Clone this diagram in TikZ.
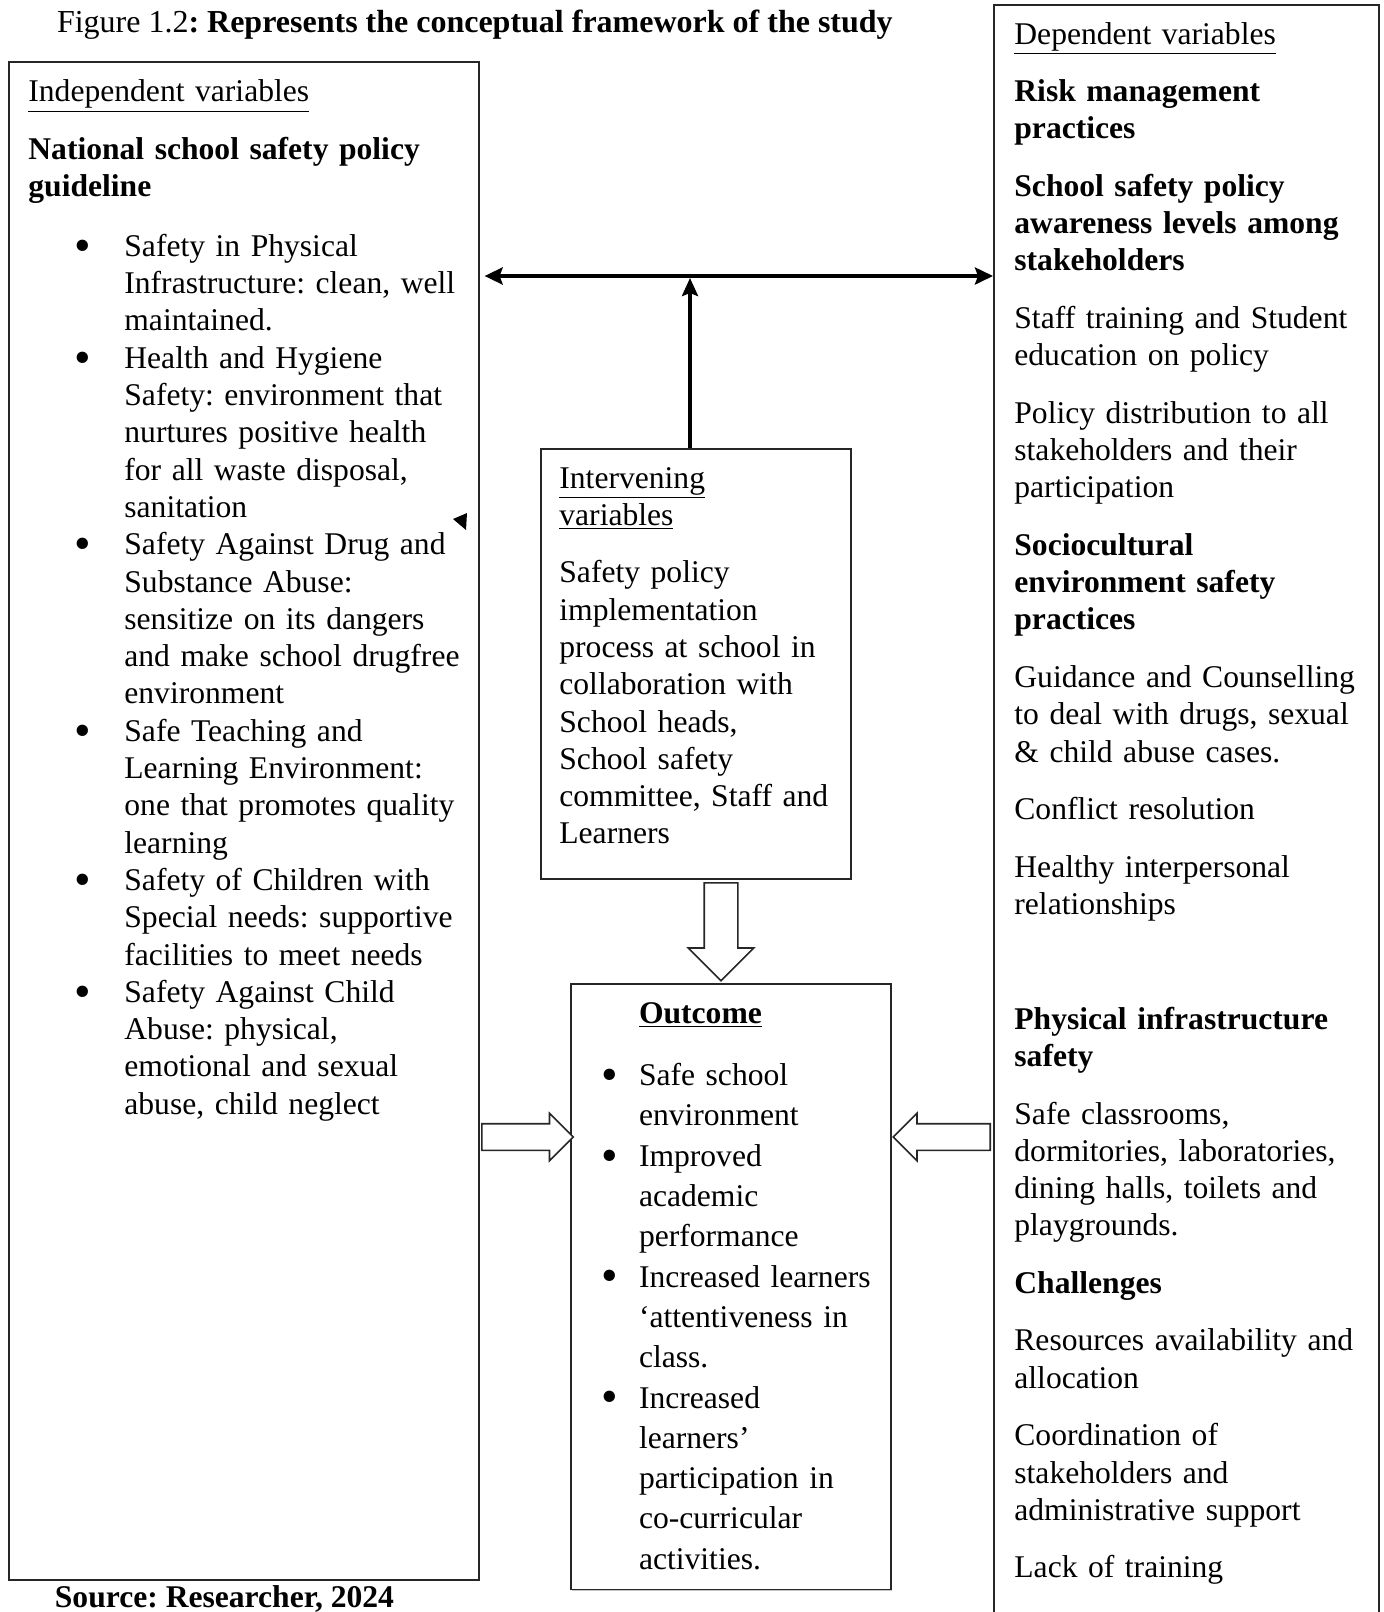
\documentclass[tikz,border=0pt]{standalone}
\usepackage{fontspec}
\setmainfont{Liberation Serif}
\usepackage{graphicx}
\usepackage{enumitem}
\usetikzlibrary{arrows.meta,shapes.arrows,shadows}
\frenchspacing

\newcommand{\bigdot}{\raisebox{-2.4pt}{\scalebox{1.5}{\textbullet}}}

\tikzset{
    frame/.style={draw=black!85, line width=0.8pt, fill=white, inner sep=0pt, anchor=north west,
        drop shadow={shadow xshift=0.6pt, shadow yshift=-0.6pt, fill=black!45}},
    txt/.style={inner sep=0pt, anchor=base west, align=left,
        font=\fontsize{15.8pt}{18.65pt}\selectfont,
        execute at begin node=\setlength{\parskip}{10.1pt}},
    tip/.style={line width=2pt},
    hollow/.style={single arrow, draw=black!85, line width=0.8pt, fill=white, anchor=tail,
        inner sep=6.25pt, single arrow head extend=5.25pt}
}

\begin{document}
\begin{tikzpicture}[x=0.5pt,y=-0.5pt]
    \useasboundingbox (0,0) rectangle (1383,1612);

    % boxes
    \node[frame, minimum width=235pt, minimum height=759pt] (indep) at (8,61) {};
    \node[frame, minimum width=155pt, minimum height=215pt] (interv) at (540,448) {};
    \node[frame, minimum width=160pt, minimum height=302.75pt] (outcome) at (570,983) {};
    \node[frame, minimum width=192.5pt, minimum height=830pt] (dep) at (993,4) {};

    % links
    \coordinate (hub) at (690,276);
    \draw[tip, {Stealth[length=9pt,width=8.5pt,inset=1.5pt]}-{Stealth[length=9pt,width=8.5pt,inset=1.5pt]}, shorten <=2.5pt]
        (indep.east |- hub) -- (dep.west |- hub);
    \draw[tip, -{Stealth[length=9pt,width=8pt,inset=1.5pt]}, shorten >=1pt] (interv.north -| hub) -- (hub);
    \node[hollow, inner sep=8pt, single arrow head extend=8pt, minimum height=49pt, rotate=-90] (downarr) at (721,882) {};
    \node[hollow, minimum height=45.75pt] (leftarr) at (481,1137) {};
    \node[hollow, minimum height=48.5pt, rotate=180] (rightarr) at (991,1137) {};
    \fill (453,519) -- (467,513) -- (466,530) -- cycle;

    % texts
    \node[txt, font=\fontsize{16pt}{18.65pt}\selectfont] (title) at (56.6,32) {Figure 1.2\textbf{: Represents the conceptual framework of the study}};
    \node[txt] (source) at (54.5,1607) {\textbf{Source: Researcher, 2024}};

    \node[txt, text width=235pt] (indeptxt) at (28,101.5) {\underline{Independent variables}\par
        \textbf{National school safety policy\\guideline}\par
        \begin{itemize}[label=\bigdot, leftmargin=48pt, labelsep=16.5pt, nosep, topsep=1.25pt]
            \item Safety in Physical\\Infrastructure: clean, well\\maintained.
            \item Health and Hygiene\\Safety: environment that\\nurtures positive health\\for all waste disposal,\\sanitation
            \item Safety Against Drug and\\Substance Abuse:\\sensitize on its dangers\\and make school drugfree\\environment
            \item Safe Teaching and\\Learning Environment:\\one that promotes quality\\learning
            \item Safety of Children with\\Special needs: supportive\\facilities to meet needs
            \item Safety Against Child\\Abuse: physical,\\emotional and sexual\\abuse, child neglect
        \end{itemize}};

    \node[txt, text width=150pt] (intervtxt) at (559,488) {\underline{Intervening}\\\underline{variables}\par
        Safety policy\\implementation\\process at school in\\collaboration with\\School heads,\\School safety\\committee, Staff and\\Learners};

    \node[txt, text width=160pt, font=\fontsize{15.8pt}{20.15pt}\selectfont] (outcometxt) at (586,1023) {\hspace*{26.3pt}\underline{\textbf{Outcome}}\par
        \begin{itemize}[label=\bigdot, leftmargin=26.3pt, labelsep=10.5pt, nosep, topsep=1.05pt]
            \item Safe school\\environment
            \item Improved\\academic\\performance
            \item Increased learners\\‘attentiveness in\\class.
            \item Increased\\learners’\\participation in\\co-curricular\\activities.
        \end{itemize}};

    \node[txt, text width=185pt] (deptxt) at (1014,44) {\underline{Dependent variables}\par
        \textbf{Risk management\\practices}\par
        \textbf{School safety policy\\awareness levels among\\stakeholders}\par
        Staff training and Student\\education on policy\par
        Policy distribution to all\\stakeholders and their\\participation\par
        \textbf{Sociocultural\\environment safety\\practices}\par
        Guidance and Counselling\\to deal with drugs, sexual\\\& child abuse cases.\par
        Conflict resolution\par
        Healthy interpersonal\\relationships\par
        \mbox{}\par
        \textbf{Physical infrastructure\\safety}\par
        Safe classrooms,\\dormitories, laboratories,\\dining halls, toilets and\\playgrounds.\par
        \textbf{Challenges}\par
        Resources availability and\\allocation\par
        Coordination of\\stakeholders and\\administrative support\par
        Lack of training};
\end{tikzpicture}
\end{document}
